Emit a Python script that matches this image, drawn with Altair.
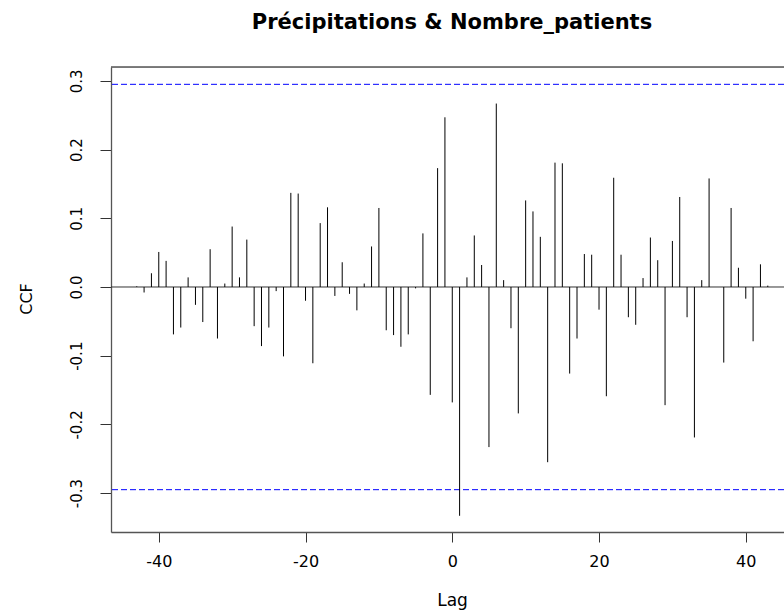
import altair as alt
import pandas as pd

lags = list(range(-43, 44))
ccf_values = [
    0.001, -0.008, 0.020, 0.051, 0.038, -0.069, -0.059, 0.014, -0.026, -0.051,
    0.055, -0.075, 0.005, 0.088, 0.014, 0.069, -0.057, -0.086, -0.059, -0.006,
    -0.101, 0.137, 0.136, -0.020, -0.111, 0.093, 0.116, -0.013, 0.036, -0.010,
    -0.034, 0.005, 0.059, 0.115, -0.063, -0.070, -0.087, -0.069, -0.002, 0.078,
    -0.157, 0.173, 0.247, -0.168, -0.333, 0.014, 0.075, 0.032, -0.233, 0.267,
    0.010, -0.060, -0.184, 0.126, 0.110, 0.073, -0.255, 0.181, 0.180, -0.126,
    -0.075, 0.048, 0.047, -0.033, -0.159, 0.159, 0.047, -0.044, -0.055, 0.013,
    0.072, 0.039, -0.172, 0.067, 0.131, -0.044, -0.219, 0.010, 0.158, 0.000,
    -0.110, 0.115, 0.028, -0.017, -0.079, 0.033, 0.002,
]
conf_limits = [0.295, -0.295]
x_ticks = [-40, -20, 0, 20, 40]
y_ticks = [-0.3, -0.2, -0.1, 0.0, 0.1, 0.2, 0.3]

df = pd.DataFrame({"Lag": lags, "CCF": ccf_values})
df_conf = pd.DataFrame({"clim": conf_limits})

W, H = 673, 465
FONT = "DejaVu Sans"

x_scale = alt.Scale(domain=[-46.51, 45.21], nice=False, zero=False)
y_scale = alt.Scale(domain=[-0.3566, 0.3202], nice=False, zero=False)

x_axis = alt.Axis(
    values=x_ticks, title="Lag", grid=False,
    labelExpr="datum.value < 0 ? '-' + format(-datum.value, 'd') : format(datum.value, 'd')",
    labelFont=FONT, labelFontSize=16, labelColor="black", labelPadding=11,
    tickSize=10, tickColor="#333", tickWidth=1,
    domainColor="#555", domainWidth=1.3,
    titleFont=FONT, titleFontSize=17, titleFontWeight="normal", titleColor="black",
    titleX=341, titleY=73, titleBaseline="alphabetic", titleAlign="center",
)
y_axis = alt.Axis(
    values=y_ticks, title="CCF", grid=False,
    labelExpr="datum.value < -0.0001 ? '-' + format(-datum.value, '.1f') : format(abs(datum.value), '.1f')",
    labelFont=FONT, labelFontSize=15, labelColor="black", labelAngle=270,
    labelAlign="center", labelBaseline="alphabetic", labelPadding=19,
    tickSize=11, tickColor="#333", tickWidth=1,
    domainColor="#555", domainWidth=1.3,
    titleFont=FONT, titleFontSize=16, titleFontWeight="normal", titleColor="black",
    titleAngle=270, titleX=-80, titleY=H / 2 - 1, titleAlign="center", titleBaseline="alphabetic",
)

bars = alt.Chart(df).mark_rule(color="black", strokeWidth=1).encode(
    x=alt.X("Lag:Q", scale=x_scale, axis=x_axis),
    y=alt.Y("CCF:Q", scale=y_scale, axis=y_axis),
    y2=alt.datum(0),
)

zero_line = alt.Chart(df.head(1)).mark_rule(color="#333", strokeWidth=1).encode(
    y=alt.datum(0, scale=y_scale)
)

conf = alt.Chart(df_conf).mark_rule(color="#0000FF", strokeWidth=1, strokeDash=[6, 3]).encode(
    y=alt.Y("clim:Q", scale=y_scale)
)

top_frame = alt.Chart(df.head(1)).mark_rule(color="#555", strokeWidth=1.3).encode(
    x=alt.value(0), x2=alt.value(W), y=alt.value(0)
)

chart = alt.layer(zero_line, conf, bars, top_frame).properties(
    width=W, height=H,
    title=alt.TitleParams(
        text="Précipitations & Nombre_patients", font=FONT, fontSize=21,
        fontWeight="bold", color="black", anchor="middle", dx=4.5,
        baseline="alphabetic", offset=16, frame="group",
    ),
    autosize=alt.AutoSizeParams(type="none"),
    padding={"left": 111, "top": 67, "right": 0, "bottom": 78},
).configure_view(stroke=None).configure(background="white")

chart.save("out.html", embed_options={"renderer": "svg", "actions": False})
